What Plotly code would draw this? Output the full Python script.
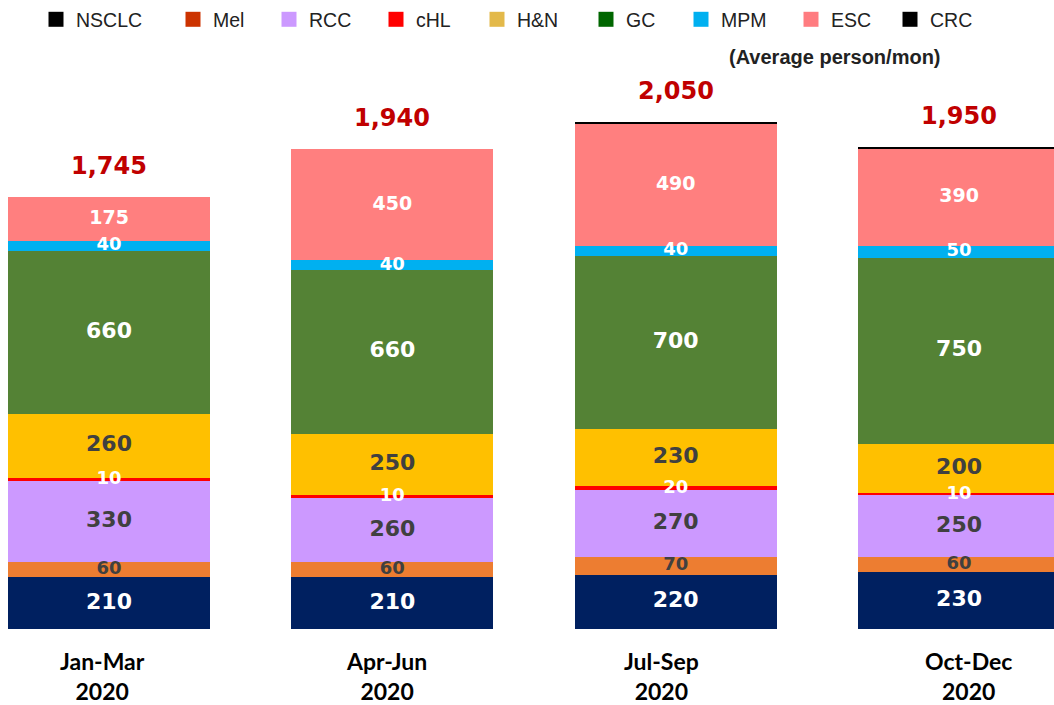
import plotly.graph_objects as go

# ---------------- data ----------------
PERIODS = ["Jan-Mar 2020", "Apr-Jun 2020", "Jul-Sep 2020", "Oct-Dec 2020"]
PERIOD_LABELS = ["Jan-Mar<br>2020", "Apr-Jun<br>2020", "Jul-Sep<br>2020", "Oct-Dec<br>2020"]

SERIES = ["NSCLC", "Mel", "RCC", "cHL", "H&N", "GC", "MPM", "ESC", "CRC"]
NSCLC = [210, 210, 220, 230]
MEL = [60, 60, 70, 60]
RCC = [330, 260, 270, 250]
CHL = [10, 10, 20, 10]
HN = [260, 250, 230, 200]
GC = [660, 660, 700, 750]
MPM = [40, 40, 40, 50]
ESC = [175, 450, 490, 390]
CRC = [0, 0, 10, 10]
VALUES = [NSCLC, MEL, RCC, CHL, HN, GC, MPM, ESC, CRC]

UNIT_NOTE = "(Average person/mon)"

# ---------------- styles ----------------
BAR_COLORS = ["#002060", "#ED7D31", "#CC99FF", "#FF0000", "#FFC000",
              "#548235", "#00B0F0", "#FF7F7F", "#000000"]
LEGEND_COLORS = ["#000000", "#CC3300", "#CC99FF", "#FF0000", "#E3B94A",
                 "#006600", "#00B0F0", "#FF7C80", "#000000"]
LEGEND_SWATCH_LEFT_PX = [49, 186, 282, 389, 490, 599, 694, 804, 903]
LABEL_COLORS = ["white", "#404040", "#404040", "white", "#404040",
                "white", "white", "white", None]
LABEL_SIZES = [22, 18, 22, 18, 22, 22, 18, 19, None]
CAT_XSHIFT = [-7, -6, -14, 9]

fig = go.Figure()

# stacked bars
for name, vals, col in zip(SERIES, VALUES, BAR_COLORS):
    fig.add_trace(go.Bar(
        x=PERIODS, y=vals, name=name, marker=dict(color=col, line=dict(width=0)),
        width=0.713, showlegend=False, hoverinfo="skip"))

# legend-only entries (legend swatch colours differ from bar colours);
# each entry gets its own legend box so the irregular spacing can be matched
legend_layouts = {}
for i, (name, col, left) in enumerate(zip(SERIES, LEGEND_COLORS, LEGEND_SWATCH_LEFT_PX)):
    key = "legend" if i == 0 else f"legend{i + 1}"
    fig.add_trace(go.Scatter(
        x=[None], y=[None], mode="markers", name=name, legend=key,
        marker=dict(symbol="square", size=15, color=col), showlegend=True))
    legend_layouts[key] = dict(
        orientation="h", x=(left - 13) / 1054, y=1.003, xanchor="left", yanchor="top",
        font=dict(family="Liberation Sans", size=19.5, color="#222222"),
        bgcolor="rgba(0,0,0,0)", borderwidth=0, itemclick=False, itemdoubleclick=False)

# segment value labels at segment midpoints
base = [0] * len(PERIODS)
for name, vals, lc, ls in zip(SERIES, VALUES, LABEL_COLORS, LABEL_SIZES):
    mids = [b + v / 2 for b, v in zip(base, vals)]
    if lc is not None:
        fig.add_trace(go.Scatter(
            x=PERIODS, y=mids, mode="text", text=[str(v) for v in vals],
            textposition="middle center",
            textfont=dict(family="DejaVu Sans", size=ls, color=lc, weight="bold"),
            showlegend=False, hoverinfo="skip"))
    base = [b + v for b, v in zip(base, vals)]

TOTALS = base
for p, t in zip(PERIODS, TOTALS):
    fig.add_annotation(x=p, y=t, text=f"{t:,}", showarrow=False, yshift=31,
                       yanchor="middle",
                       font=dict(family="DejaVu Sans", size=24, color="#C00000", weight="bold"))

for p, lab, dx in zip(PERIODS, PERIOD_LABELS, CAT_XSHIFT):
    fig.add_annotation(x=p, y=0, text=lab, showarrow=False, yshift=-47, xshift=dx,
                       yanchor="middle",
                       font=dict(family="Lato", size=23, color="black", weight="bold"))

fig.add_annotation(x=835 / 1054, y=(629 - 55) / 629, xref="paper", yref="paper",
                   text=UNIT_NOTE, showarrow=False, xanchor="center", yanchor="middle",
                   font=dict(family="Liberation Sans", size=20, color="#222222", weight="bold"))

fig.update_layout(
    width=1054, height=705,
    margin=dict(l=0, r=0, t=0, b=76, pad=0),
    barmode="stack",
    plot_bgcolor="white", paper_bgcolor="white",
    showlegend=True,
    xaxis=dict(range=[-0.3848, 3.335], showticklabels=False, showgrid=False,
               zeroline=False, showline=False, ticks=""),
    yaxis=dict(range=[0, 2535], visible=False, showgrid=False, zeroline=False),
    **legend_layouts,
)

fig.write_html("out.html", config={"displayModeBar": False},
               post_script="document.body.style.margin='0';document.body.style.overflow='hidden';")
